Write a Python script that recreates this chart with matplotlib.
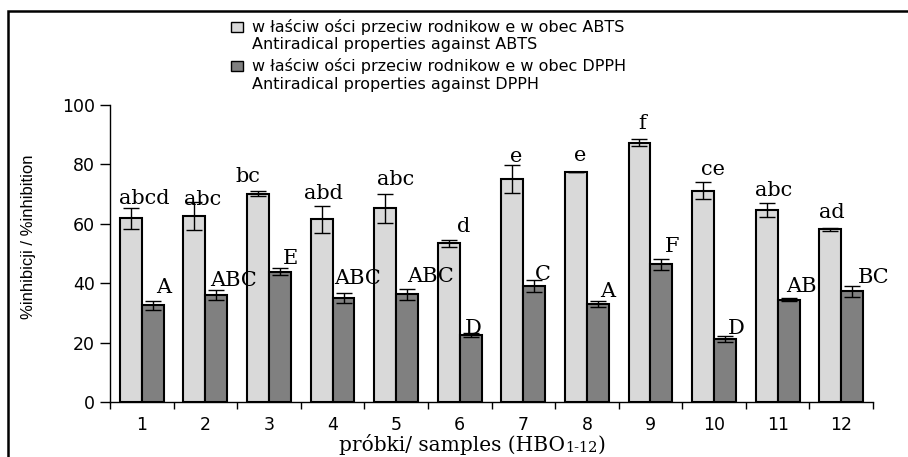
import numpy as np
import matplotlib
matplotlib.use("Agg")
import matplotlib.pyplot as plt
from matplotlib.patches import Rectangle

# sample numbers (HBO 1-12)
samples = [str(i) for i in range(1, 13)]

# ABTS and DPPH inhibition (%)
abts = [61.8, 62.7, 70.2, 61.5, 65.2, 53.4, 75.0, 77.4, 87.3, 71.2, 64.6, 58.1]
abts_err = [3.6, 4.7, 1.0, 4.5, 5.0, 1.2, 4.7, 0.0, 1.2, 3.0, 2.4, 0.4]
dpph = [32.6, 36.0, 43.8, 35.0, 36.3, 22.7, 39.1, 33.0, 46.3, 21.2, 34.5, 37.3]
dpph_err = [1.5, 1.8, 1.2, 1.8, 1.8, 0.7, 2.1, 0.9, 1.8, 0.9, 0.5, 1.9]

# significance letters
abts_letters = ["abcd", "abc", "bc", "abd", "abc", "d", "e", "e", "f", "ce", "abc", "ad"]
dpph_letters = ["A", "ABC", "E", "ABC", "ABC", "D", "C", "A", "F", "D", "AB", "BC"]

legend_lines = [
    ("w łaściw ości przeciw rodnikow e w obec ABTS", "Antiradical properties against ABTS"),
    ("w łaściw ości przeciw rodnikow e w obec DPPH", "Antiradical properties against DPPH"),
]

# label nudges (pixels sideways, % units up from error bar top)
abts_dx = [13, 8, -10, 2, 10, 15, 4, 4, 3, 10, 7, 2]
abts_dy = [1.1, -1.1, 3.0, 2.2, 2.8, 2.7, 1.2, 3.7, 3.3, 2.2, 2.3, 3.4]
dpph_dx = [3, -6, 3, -9, 0, -6, 1, 2, 3, 3, -2, 6]
dpph_dy = [2.6, 1.4, 1.4, 2.8, 2.3, -0.4, -0.2, 1.3, 2.3, 0.9, 1.9, 0.7]

light = "#d9d9d9"
dark = "#808080"

fig = plt.figure(figsize=(9.08, 4.57), dpi=100)
ax = fig.add_axes([110 / 908, 1 - 402 / 457, 763 / 908, 297 / 457])

x = np.arange(1, 13)
w = 0.345
off = 0.1725
ax.bar(x - off, abts, w, color=light, edgecolor="black", linewidth=1.5, zorder=2)
ax.bar(x + off, dpph, w, color=dark, edgecolor="black", linewidth=1.5, zorder=2)
ax.errorbar(x - off, abts, yerr=abts_err, fmt="none", ecolor="black", elinewidth=1,
            capsize=6, capthick=1, zorder=3)
ax.errorbar(x + off, dpph, yerr=dpph_err, fmt="none", ecolor="black", elinewidth=1,
            capsize=6, capthick=1, zorder=3)

serif = "DejaVu Serif"
for i in range(12):
    ax.annotate(abts_letters[i], xy=(x[i] - off, abts[i] + abts_err[i] + abts_dy[i]),
                xytext=(abts_dx[i], 0), textcoords="offset pixels",
                ha="center", va="baseline", fontsize=15, family=serif, zorder=4)
    ax.annotate(dpph_letters[i], xy=(x[i] + off, dpph[i] + dpph_err[i] + dpph_dy[i]),
                xytext=(dpph_dx[i], 0), textcoords="offset pixels",
                ha="left", va="baseline", fontsize=15, family=serif, zorder=4)

ax.set_xlim(0.5, 12.5)
ax.set_ylim(0, 100)
ax.set_yticks([0, 20, 40, 60, 80, 100])
ax.set_xticks(np.arange(0.5, 13, 1))
ax.set_xticklabels([])
ax.set_xticks(x, minor=True)
ax.set_xticklabels(samples, minor=True)
ax.tick_params(axis="x", which="major", direction="out", length=5, width=1)
ax.tick_params(axis="x", which="minor", length=0, pad=10, labelsize=12.5)
ax.tick_params(axis="y", direction="out", length=7, width=1, pad=4, labelsize=12.5)
for s in ["top", "right"]:
    ax.spines[s].set_visible(False)
for s in ["left", "bottom"]:
    ax.spines[s].set_linewidth(1)

# x label with the small "1-12"
xl = fig.text(452 / 908, 1 - 451 / 457, "próbki/ samples (HBO", ha="center", va="baseline",
              fontsize=14.5, family=serif)
sub = ax.annotate("1-12", xy=(1, 0), xycoords=xl, va="bottom", ha="left",
                  fontsize=10.5, family=serif)
ax.annotate(")", xy=(1, 0), xycoords=sub, va="bottom", ha="left",
            fontsize=14.5, family=serif)

fig.text(29 / 908, 1 - 237 / 457, "%inhibicji / %inhibition", rotation=90,
         ha="center", va="center", fontsize=12, family="Liberation Sans")

# legend drawn by hand so the swatch sits on the first line
for k, (pl, en) in enumerate(legend_lines):
    y1 = 27 + k * 39
    col = light if k == 0 else dark
    fig.patches.append(Rectangle((231 / 908, 1 - (y1 + 4.5) / 457), 12 / 908, 9 / 457,
                                 transform=fig.transFigure, facecolor=col,
                                 edgecolor="black", linewidth=1))
    fig.text(252 / 908, 1 - y1 / 457, pl, ha="left", va="center", fontsize=11.5)
    fig.text(252 / 908, 1 - (y1 + 18) / 457, en, ha="left", va="center", fontsize=11.5)

# outer frame, clipped by the picture on the right and bottom
fig.patches.append(Rectangle((7.5 / 908, -0.2), 1.2, 1.2 - 11 / 457,
                             transform=fig.transFigure, fill=False,
                             edgecolor="black", linewidth=1.8))

fig.savefig("out.png", dpi=100)
